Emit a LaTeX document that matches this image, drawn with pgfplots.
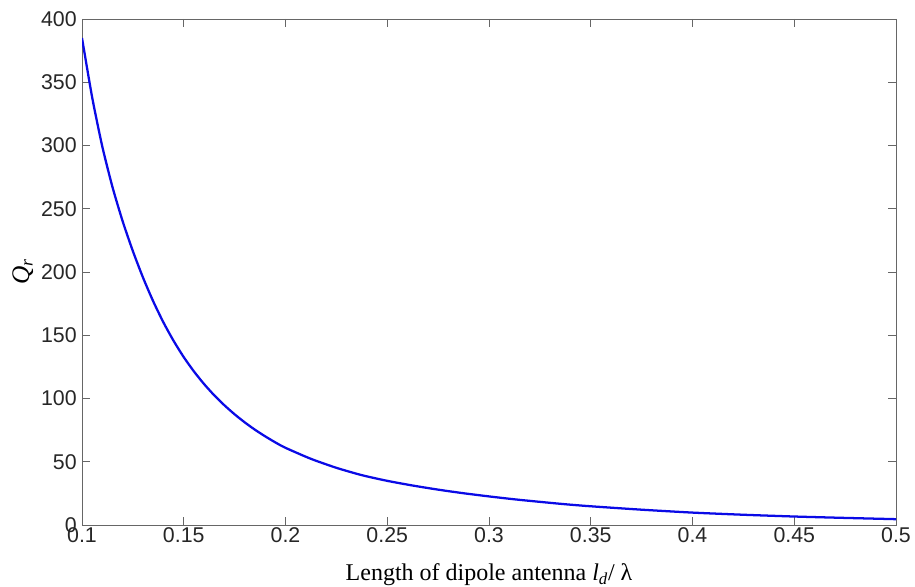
\documentclass[border=0pt]{standalone}
\usepackage{fontspec}
\setmainfont{Liberation Serif}
\newfontfamily\arial{Liberation Sans}
\usepackage{pgfplots}
\pgfplotsset{compat=1.18}
\definecolor{mblue}{RGB}{10,10,230}
\begin{document}
\begin{tikzpicture}
\begin{axis}[
    name=ax,
    scale only axis,
    width=610.5pt, height=379.5pt,
    xmin=0.1, xmax=0.5, ymin=0, ymax=400,
    xtick={0.1,0.15,0.2,0.25,0.3,0.35,0.4,0.45,0.5},
    xticklabels={0.1,0.15,0.2,0.25,0.3,0.35,0.4,0.45,0.5},
    ytick={0,50,100,150,200,250,300,350,400},
    tick align=inside, tick pos=both,
    major tick length=6pt,
    axis line style={black!60, line width=0.7pt},
    tick style={black!60, line width=0.6pt},
    /pgf/number format/assume math mode=true,
    ticklabel style={font=\arial\fontsize{16}{16}\selectfont, text=black!85},
    xticklabel style={yshift=1.5pt},
    yticklabel style={xshift=-0.5pt},
    xlabel={Length of dipole antenna \textit{l\textsubscript{d}}/ λ},
    xlabel style={font=\fontsize{18}{18}\selectfont, yshift=-9pt},
    ylabel={\textit{Q\textsubscript{r}}},
    ylabel style={font=\fontsize{19}{19}\selectfont, yshift=-1pt},
]
% Q_r
\addplot[mblue, line width=1.7pt, smooth, tension=0.4] coordinates {
(0.100,385) (0.105,338) (0.110,299) (0.115,267) (0.120,240) (0.125,216.5)
(0.130,195.5) (0.135,176.8) (0.140,160.2) (0.145,145.6) (0.150,132.7)
(0.155,121.4) (0.160,111.4) (0.165,102.5) (0.170,94.6) (0.175,87.5)
(0.180,81.1) (0.185,75.3) (0.190,70.1) (0.195,65.3) (0.200,61)
(0.2125,52.3) (0.225,45.2) (0.2375,39.4) (0.250,34.9) (0.2625,31.2)
(0.275,27.95) (0.2875,25.1) (0.300,22.6) (0.3125,20.3) (0.325,18.3)
(0.3375,16.4) (0.350,14.8) (0.375,12.1) (0.400,9.8) (0.425,8.1)
(0.450,6.7) (0.475,5.6) (0.500,4.6)
};
\end{axis}
\pgfresetboundingbox
\path[use as bounding box] ([xshift=-61.5pt,yshift=-46.5pt]ax.south west) rectangle ([xshift=14.25pt,yshift=14.25pt]ax.north east);
\end{tikzpicture}
\end{document}
